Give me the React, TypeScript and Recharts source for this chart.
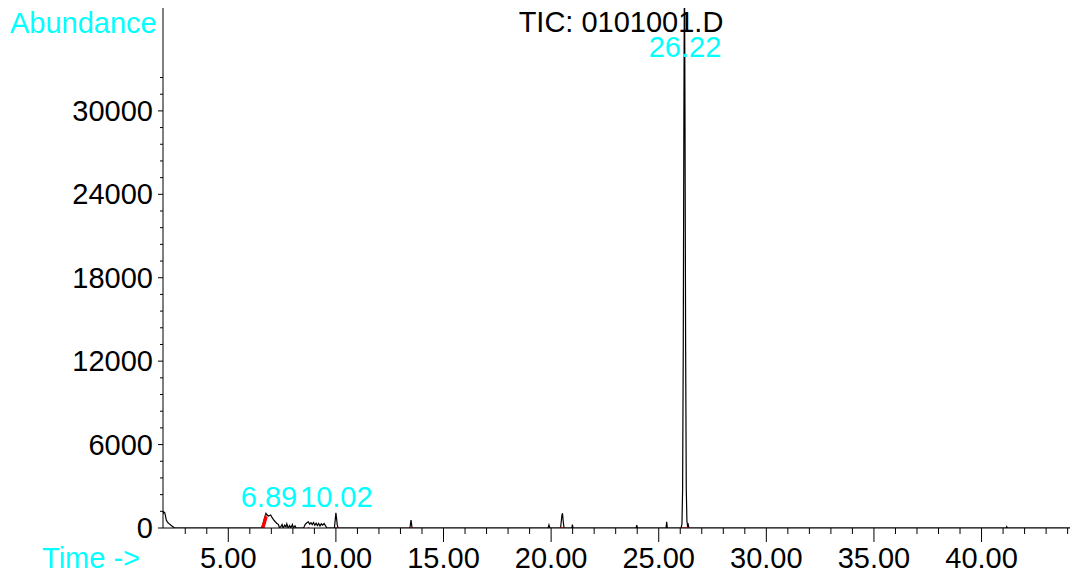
import React from "react";
import { ComposedChart, Line, Scatter, XAxis, YAxis } from "recharts";

// Retention times (min) and abundance of the TIC trace
const times: number[] = [
  1.97, 2.0, 2.05, 2.09, 2.12, 2.16, 2.2, 2.26, 2.32, 2.38, 2.43, 2.5,
  6.55, 6.62, 6.68, 6.75, 6.8, 6.86, 6.92, 6.97, 7.03, 7.1, 7.18, 7.25, 7.33, 7.38,
  7.45, 7.5, 7.55, 7.62, 7.68, 7.72, 7.78, 7.85, 7.9, 7.98, 8.02, 8.1, 8.15,
  8.5, 8.57, 8.65, 8.72, 8.78, 8.84, 8.9, 8.96, 9.02, 9.08, 9.14, 9.2, 9.26, 9.32,
  9.38, 9.45, 9.52, 9.58,
  9.93, 9.97, 10.0, 10.03, 10.06, 10.1,
  13.44, 13.49, 13.54,
  19.86, 19.9, 19.94,
  20.44, 20.5, 20.53, 20.56, 20.6,
  20.96, 20.99, 21.02,
  23.95, 23.98, 24.01,
  25.34, 25.37, 25.4,
  26.04, 26.08, 26.11, 26.14, 26.17, 26.195, 26.22, 26.25, 26.28, 26.31, 26.34, 26.37, 26.4,
  41.14, 41.17, 41.2,
  44.11,
];
const abundance: number[] = [
  1000, 1170, 1100, 800, 575, 460, 380, 300, 215, 150, 95, 0,
  0, 350, 700, 1060, 950, 860, 900, 935, 760, 600, 450, 340, 250, 0,
  120, 250, 0, 200, 80, 300, 0, 180, 0, 250, 0, 150, 0,
  0, 250, 380, 450, 280, 380, 240, 400, 200, 350, 180, 330, 150, 300,
  200, 320, 150, 0,
  0, 600, 1100, 700, 250, 0,
  0, 575, 0,
  0, 215, 0,
  0, 900, 1060, 500, 0,
  0, 250, 0,
  0, 200, 0,
  0, 450, 0,
  0, 300, 2800, 13000, 30000, 41000, 30000, 13000, 2800, 500, 150, 250, 0,
  0, 100, 0,
  0,
];

// Integration marks (red)
const intTimes: number[] = [
  6.55, 6.75, 6.6, 6.8, 6.65, 6.66,
  8.68, 8.76, 8.77,
  9.95, 10.08, 10.09,
  13.41, 13.57, 13.58,
  20.38, 20.6, 20.61,
  26.06, 26.4,
];
const intValues: (number | null)[] = [
  0, 950, 0, 800, 0, null,
  0, 0, null,
  0, 0, null,
  0, 0, null,
  0, 0, null,
  0, 0,
];

// Peak labels
const peakLabels: string[] = ["6.89", "10.02", "26.22"];
const peakLabelTimes: number[] = [6.89, 10.02, 26.22];
const peakLabelY: number[] = [2230, 2230, 34600];

const xTicks: number[] = Array.from({ length: 42 }, (_, i) => i + 3);
const yTicks: number[] = Array.from({ length: 28 }, (_, i) => i * 1200);

const data = times.map((t, i) => ({ t, v: abundance[i] }));
const intData = intTimes.map((t, i) => ({ t, v: intValues[i] }));
const labelData = peakLabels.map((s, i) => ({ t: peakLabelTimes[i], v: peakLabelY[i], s }));

const FONT = "'Liberation Sans', Arial, sans-serif";
const FS = 29;
const CYAN = "#00ffff";

const XTick = (props: any) => {
  const { x, y, payload } = props;
  const val = payload.value as number;
  const major = Math.abs(val % 5) < 1e-6;
  return (
    <g>
      <line x1={x} x2={x} y1={y} y2={y + (major ? 14 : 6)} stroke="#000" strokeWidth={1} />
      {major && (
        <text x={x} y={y + 40} textAnchor="middle" fontFamily={FONT} fontSize={FS} fill="#000">
          {val.toFixed(2)}
        </text>
      )}
    </g>
  );
};

const YTick = (props: any) => {
  const { x, y, payload } = props;
  const val = payload.value as number;
  const major = val % 6000 === 0;
  return (
    <g>
      <line x1={x - (major ? 5 : 3)} x2={x} y1={y} y2={y} stroke="#000" strokeWidth={1} />
      {major && (
        <text x={x - 10} y={y} dy="0.35em" textAnchor="end" fontFamily={FONT} fontSize={FS} fill="#000">
          {String(val)}
        </text>
      )}
    </g>
  );
};

const LabelShape = (props: any) => {
  const { cx, cy, payload } = props;
  return (
    <text x={cx} y={cy} dy="0.35em" textAnchor="middle" fontFamily={FONT} fontSize={FS} fill={CYAN}>
      {payload.s}
    </text>
  );
};

export default function App() {
  return (
    <div style={{ position: "absolute", left: 0, top: 0, width: 1072, height: 579, background: "#fff" }}>
      <ComposedChart width={1072} height={579} margin={{ top: 8, right: 2, bottom: 0, left: 0 }}>
        <XAxis
          type="number"
          dataKey="t"
          domain={[1.966, 44.11]}
          allowDataOverflow
          ticks={xTicks}
          interval={0}
          height={51}
          tickSize={0}
          tickMargin={0}
          tickLine={false}
          tick={<XTick />}
          axisLine={{ stroke: "#000", strokeWidth: 1 }}
        />
        <YAxis
          type="number"
          dataKey="v"
          domain={[0, 37400]}
          allowDataOverflow
          ticks={yTicks}
          interval={0}
          width={163}
          tickSize={0}
          tickMargin={0}
          tickLine={false}
          tick={<YTick />}
          axisLine={{ stroke: "#000", strokeWidth: 1 }}
        />
        <Line
          data={data}
          dataKey="v"
          type="linear"
          stroke="#000"
          strokeWidth={1.2}
          dot={false}
          isAnimationActive={false}
        />
        <Line
          data={intData}
          dataKey="v"
          type="linear"
          stroke="#ff0000"
          strokeWidth={1.5}
          dot={false}
          connectNulls={false}
          isAnimationActive={false}
        />
        <Scatter data={labelData} dataKey="v" shape={<LabelShape />} isAnimationActive={false} />
      </ComposedChart>
      <svg
        width={1072}
        height={579}
        style={{ position: "absolute", left: 0, top: 0, pointerEvents: "none" }}
      >
        <text x={10} y={23} dy="0.35em" fontFamily={FONT} fontSize={FS} fill={CYAN}>
          Abundance
        </text>
        <text x={42} y={558} dy="0.35em" fontFamily={FONT} fontSize={FS} fill={CYAN}>
          {"Time ->"}
        </text>
        <text x={621} y={22} dy="0.35em" textAnchor="middle" fontFamily={FONT} fontSize={FS} fill="#000">
          TIC: 0101001.D
        </text>
      </svg>
    </div>
  );
}
